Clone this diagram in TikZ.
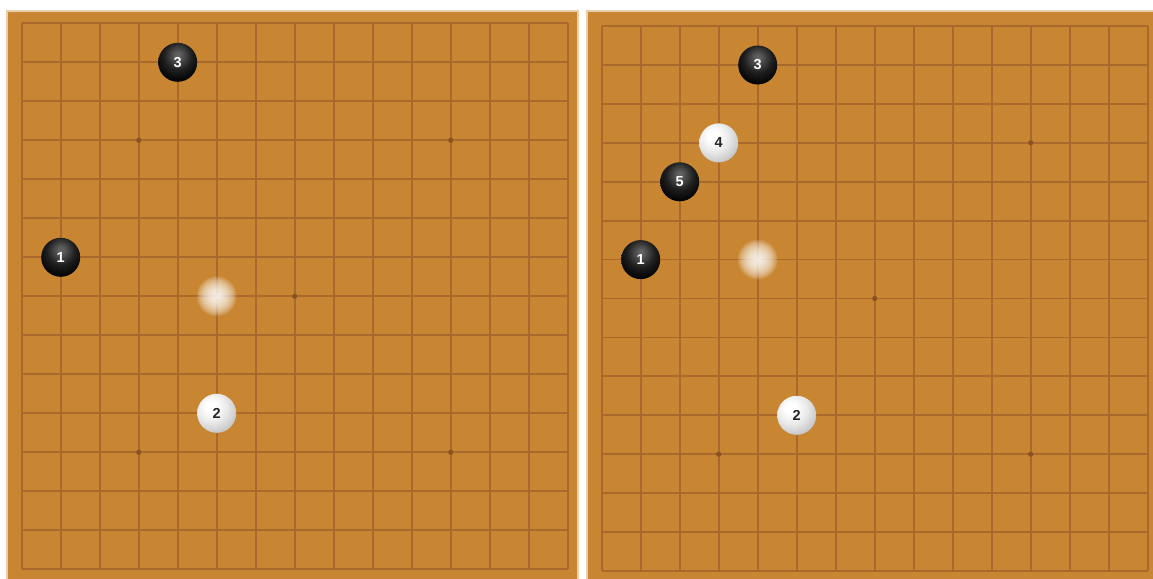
\documentclass[tikz,border=0pt]{standalone}
\usepackage{fontspec}
\setsansfont{Liberation Sans}
\definecolor{board}{HTML}{C88632}
\definecolor{gridc}{HTML}{A9692C}
\definecolor{stardot}{HTML}{8A5220}
\pgfdeclareradialshading{blackstone}{\pgfpoint{0bp}{10bp}}{color(0bp)=(black!60); color(4bp)=(black!64); color(18bp)=(black!88); color(32bp)=(black); color(100bp)=(black)}
\pgfdeclareradialshading{whitestone}{\pgfpoint{-8bp}{10bp}}{color(0bp)=(white); color(7bp)=(white); color(20bp)=(black!9); color(34bp)=(black!24); color(46bp)=(black!38); color(60bp)=(black!46); color(100bp)=(black!46)}
\tikzset{
  gridline/.style={draw=gridc, line width=1.8pt},
  stardotstyle/.style={fill=stardot},
  stonebase/.style={circle, minimum size=39pt, inner sep=0pt, font=\sffamily\bfseries\fontsize{14.5}{14.5}\selectfont},
  blackstonestyle/.style={stonebase, shading=blackstone, text=white},
  whitestonestyle/.style={stonebase, shading=whitestone, text=black!85},
  glowring/.style={fill=white, opacity=0.1},
  boardbg/.style={fill=board},
  boardedge/.style={draw=board, opacity=0.4, line width=2.5pt}
}
\begin{document}
\begin{tikzpicture}[x=1pt,y=-1pt]
\useasboundingbox (0,0) rectangle (1153,578);
\fill[white] (0,0) rectangle (1153,578);
% boards
\fill[boardbg] (8,12) rectangle (577,600);
\draw[boardedge] (7,11) rectangle (578,601);
\fill[boardbg] (588,12) rectangle (1165,600);
\draw[boardedge] (587,11) rectangle (1166,601);
% left grid
\foreach \i in {0,...,14} {
  \draw[gridline] ({21.7+\i*39},23.3) -- ({21.7+\i*39},569.3);
  \draw[gridline] (21.7,{23.3+\i*39}) -- (567.7,{23.3+\i*39});
}
% right grid
\foreach \i in {0,...,14} {
  \draw[gridline] ({601.7+\i*39},26) -- ({601.7+\i*39},571);
  \draw[gridline] (601.7,{26+\i*38.93}) -- (1147.7,{26+\i*38.93});
}
% star points
\foreach \c/\r in {3/3,11/3,7/7,3/11,11/11} {
  \fill[stardotstyle] ({21.7+\c*39},{23.3+\r*39}) circle (2.6);
  \fill[stardotstyle] ({601.7+\c*39},{26+\r*38.93}) circle (2.6);
}
% ghost glows (hover markers)
\coordinate (Lg) at (216.7,296.3);
\coordinate (Rg) at (757.7,259.6);
\foreach \r in {1,...,20} {
  \fill[glowring] (Lg) circle (\r);
  \fill[glowring] (Rg) circle (\r);
}
% left board stones
\node[blackstonestyle] (L3) at (177.7,62.3) {3};
\node[blackstonestyle] (L1) at (60.7,257.3) {1};
\node[whitestonestyle] (L2) at (216.7,413.3) {2};
% right board stones
\node[blackstonestyle] (R3) at (757.7,65) {3};
\node[whitestonestyle] (R4) at (718.7,142.9) {4};
\node[blackstonestyle] (R5) at (679.7,181.8) {5};
\node[blackstonestyle] (R1) at (640.7,259.6) {1};
\node[whitestonestyle] (R2) at (796.7,415.3) {2};
\end{tikzpicture}
\end{document}
